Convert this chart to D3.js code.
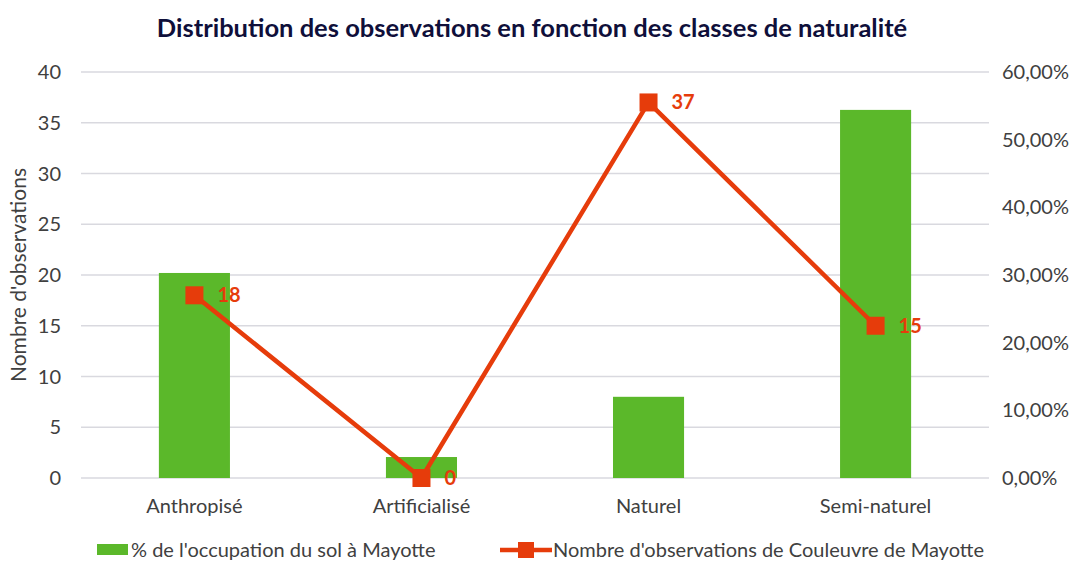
<!DOCTYPE html>
<html>
<head>
<meta charset="utf-8">
<script src="https://cdn.jsdelivr.net/npm/d3@7"></script>
<style>
  body { margin: 0; background: #fff; }
  text { font-family: Lato, "Open Sans", sans-serif; }
</style>
</head>
<body>
<svg id="chart" width="1075" height="561"></svg>
<script>
// chart data
var categories = ["Anthropisé", "Artificialisé", "Naturel", "Semi-naturel"];
var occupation = [0.303, 0.031, 0.120, 0.544];   // % de l'occupation du sol
var observations = [18, 0, 37, 15];               // nombre d'observations
var leftTicks = [0, 5, 10, 15, 20, 25, 30, 35, 40];
var rightTicks = [0, 0.1, 0.2, 0.3, 0.4, 0.5, 0.6];

var svg = d3.select("#chart");
var plotLeft = 81, plotRight = 989, plotTop = 72, plotBottom = 478;

var x = d3.scaleBand().domain(categories).range([plotLeft, plotRight]).paddingInner(0.687).paddingOuter(0.343);
var y = d3.scaleLinear().domain([0, 40]).range([plotBottom, plotTop]);
var y2 = d3.scaleLinear().domain([0, 0.6]).range([plotBottom, plotTop]);

var lineColor = "#e63c0b";
var barColor = "#5bb82a";
var textColor = "#404040";
var fs = "20px";

// title
svg.append("text")
   .attr("x", 532).attr("y", 37)
   .attr("text-anchor", "middle")
   .style("font-size", "25.5px").style("font-weight", "bold")
   .style("fill", "#0f0f3a")
   .text("Distribution des observations en fonction des classes de naturalité");

// gridlines
svg.selectAll("line.grid")
   .data(leftTicks)
   .enter().append("line")
   .attr("class", "grid")
   .attr("x1", plotLeft).attr("x2", plotRight)
   .attr("y1", d => y(d)).attr("y2", d => y(d))
   .style("stroke", "#d9d9df").style("stroke-width", 1.5);

// left axis labels
svg.selectAll("text.yl")
   .data(leftTicks)
   .enter().append("text")
   .attr("class", "yl")
   .attr("x", 61).attr("y", d => y(d) + 7)
   .attr("text-anchor", "end")
   .style("font-size", fs).style("fill", textColor)
   .text(d => d);

// right axis labels
var pct = d => d3.format(".2f")(d * 100).replace(".", ",") + "%";
svg.selectAll("text.yr")
   .data(rightTicks)
   .enter().append("text")
   .attr("class", "yr")
   .attr("x", 1002).attr("y", d => y2(d) + 7)
   .style("font-size", fs).style("fill", textColor)
   .text(pct);

// y-axis title
svg.append("text")
   .attr("transform", "translate(26,275) rotate(-90)")
   .attr("text-anchor", "middle")
   .style("font-size", "21px").style("fill", textColor)
   .text("Nombre d'observations");

// bars
svg.selectAll("rect.bar")
   .data(categories)
   .enter().append("rect")
   .attr("class", "bar")
   .attr("x", d => x(d))
   .attr("width", x.bandwidth())
   .attr("y", (d, i) => y2(occupation[i]))
   .attr("height", (d, i) => plotBottom - y2(occupation[i]))
   .style("fill", barColor);

// category labels
svg.selectAll("text.cat")
   .data(categories)
   .enter().append("text")
   .attr("class", "cat")
   .attr("x", d => x(d) + x.bandwidth() / 2)
   .attr("y", 513)
   .attr("text-anchor", "middle")
   .style("font-size", fs).style("fill", textColor)
   .text(d => d);

// line
var pts = categories.map((c, i) => [x(c) + x.bandwidth() / 2, y(observations[i])]);
svg.append("path")
   .datum(pts)
   .attr("d", d3.line())
   .style("fill", "none").style("stroke", lineColor)
   .style("stroke-width", 4.5).style("stroke-linejoin", "round");

svg.selectAll("rect.marker")
   .data(pts)
   .enter().append("rect")
   .attr("class", "marker")
   .attr("x", d => d[0] - 9).attr("y", d => d[1] - 9)
   .attr("width", 18).attr("height", 18)
   .style("fill", lineColor);

svg.selectAll("text.val")
   .data(pts)
   .enter().append("text")
   .attr("class", "val")
   .attr("x", d => d[0] + 23).attr("y", d => d[1] + 7)
   .style("font-size", fs).style("font-weight", "bold")
   .style("fill", lineColor)
   .text((d, i) => observations[i]);

// legend
svg.append("rect")
   .attr("x", 97).attr("y", 544).attr("width", 31).attr("height", 11)
   .style("fill", barColor);
svg.append("text")
   .attr("x", 131).attr("y", 557)
   .style("font-size", fs).style("fill", textColor)
   .text("% de l'occupation du sol à Mayotte");

svg.append("line")
   .attr("x1", 500).attr("x2", 552).attr("y1", 550).attr("y2", 550)
   .style("stroke", lineColor).style("stroke-width", 4.5);
svg.append("rect")
   .attr("x", 518).attr("y", 542).attr("width", 16).attr("height", 16)
   .style("fill", lineColor);
svg.append("text")
   .attr("x", 553).attr("y", 557)
   .style("font-size", fs).style("fill", textColor)
   .text("Nombre d'observations de Couleuvre de Mayotte");
</script>
</body>
</html>
